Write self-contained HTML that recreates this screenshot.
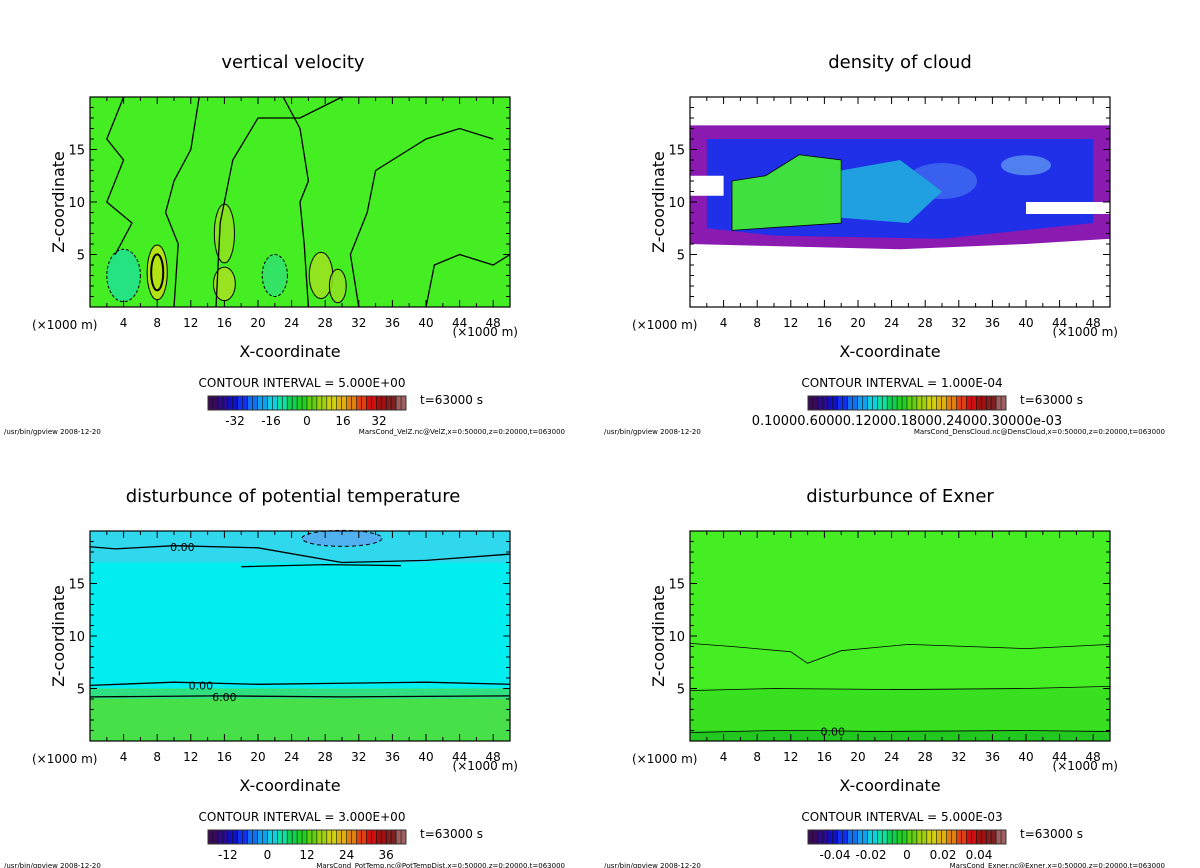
<!DOCTYPE html>
<html><head><meta charset="utf-8">
<style>
body{margin:0;background:#fff;width:1200px;height:868px;overflow:hidden}
svg{display:block}
text{font-family:"DejaVu Sans","Liberation Sans",sans-serif;fill:#000}
</style></head>
<body>
<svg id="s" width="1200" height="868" viewBox="0 0 1200 868"></svg>
<script>
const xTicks=[4,8,12,16,20,24,28,32,36,40,44,48];
const zTicks=[5,10,15];
const titles=["vertical velocity","density of cloud","disturbunce of potential temperature","disturbunce of Exner"];
const intervals=["5.000E+00","1.000E-04","3.000E+00","5.000E-03"];
const cbLabels=[["-32","-16","0","16","32"],["0.10000.60000.12000.18000.24000.30000e-03"],["-12","0","12","24","36"],["-0.04","-0.02","0","0.02","0.04"]];
const cbLabelVals=[[-32,-16,0,16,32],[0],[-12,0,12,24,36],[-0.04,-0.02,0,0.02,0.04]];
const cbRange=[[-44,44],[0,0],[-18,42],[-0.055,0.055]];
const files=["MarsCond_VelZ.nc@VelZ,x=0:50000,z=0:20000,t=063000","MarsCond_DensCloud.nc@DensCloud,x=0:50000,z=0:20000,t=063000","MarsCond_PotTemp.nc@PotTempDist,x=0:50000,z=0:20000,t=063000","MarsCond_Exner.nc@Exner,x=0:50000,z=0:20000,t=063000"];
const panelNames=["vertical-velocity","density-of-cloud","potential-temperature","exner"];
const S=document.getElementById('s');const NS='http://www.w3.org/2000/svg';
function el(t,a,p){const e=document.createElementNS(NS,t);for(const k in a)e.setAttribute(k,a[k]);(p||S).appendChild(e);return e;}
function tx(x,y,s,size,anchor,p){const e=el('text',{x:x,y:y,'font-size':size,'text-anchor':anchor||'middle'},p);e.textContent=s;return e;}
const PW=420,PH=210;
const origins=[[90,97],[690,97],[90,531],[690,531]];
const stripeCols=["#3a0a5a","#2a0a8a","#1010c0","#1030f0","#1070f0","#10a0f0","#10d0e0","#10e0a0","#10d050","#20d020","#60d010","#a0d010","#d0d010","#e0b010","#e08010","#e04010","#d01010","#a01010","#802020","#a06060"];
for(let i=0;i<4;i++){
  const [ox,oy]=origins[i];
  const g=el('g',{},S);
  
  const X=v=>ox+v/50*PW, Z=v=>oy+PH-v/20*PH;
  const t=tx(ox+PW/2+(i%2?0:-7),oy-29,titles[i],18,'middle',g);
  const pl=el('g',{},g);
  if(i==0){
    el('rect',{x:ox,y:oy,width:PW,height:PH,fill:'#44ee22'},pl);
    [[8,3.3,1.2,2.6,'#c8e010'],[16,7,1.2,2.8,'#90e020'],[16,2.2,1.3,1.6,'#a8e020'],[27.5,3,1.4,2.2,'#a0e020'],[29.5,2,1,1.6,'#90e020'],[4,3,2,2.5,'#20e090'],[22,3,1.5,2,'#30e070']].forEach(e=>{
      el('ellipse',{cx:X(e[0]),cy:Z(e[1]),rx:e[2]*8.4,ry:e[3]*10.5,fill:e[4],opacity:0.85},pl);
      el('ellipse',{cx:X(e[0]),cy:Z(e[1]),rx:e[2]*8.4,ry:e[3]*10.5,fill:'none',stroke:'#000','stroke-width':1,'stroke-dasharray':e[4].startsWith('#2')||e[4].startsWith('#3')?'3,2':''},pl);
    });
    el('ellipse',{cx:X(8),cy:Z(3.3),rx:6,ry:18,fill:'none',stroke:'#000','stroke-width':2},pl);
    [[[10,0],[10.5,6],[9,9],[10,12],[12,15],[13,20]],[[15,0],[15.5,8],[17,14],[20,18],[25,18],[30,20]],[[26,0],[25.5,6],[25,10],[26,12],[25,17],[23,20]],[[32,0],[31,5],[33,9],[34,13],[38,15],[40,16],[44,17],[48,16]],[[3,5],[5,8],[2,10],[4,14],[2,16],[4,20]],[[40,0],[41,4],[44,5],[48,4],[50,5]]].forEach(p=>{
      el('polyline',{points:p.map(q=>X(q[0])+','+Z(q[1])).join(' '),fill:'none',stroke:'#000','stroke-width':1.3},pl);
    });
  } else if(i==1){
    el('rect',{x:ox,y:oy,width:PW,height:PH,fill:'#fff'},pl);
    el('path',{d:`M${X(0)},${Z(17.3)} L${X(50)},${Z(17.3)} L${X(50)},${Z(6.5)} L${X(40)},${Z(6)} L${X(25)},${Z(5.5)} L${X(10)},${Z(5.8)} L${X(0)},${Z(6)} Z`,fill:'#8a1ab0'},pl);
    el('path',{d:`M${X(2)},${Z(16)} L${X(48)},${Z(16)} L${X(48)},${Z(8)} L${X(30)},${Z(6.5)} L${X(10)},${Z(6.8)} L${X(2)},${Z(7.5)} Z`,fill:'#2030e8'},pl);
    el('rect',{x:X(0),y:Z(12.5),width:X(4)-X(0),height:20,fill:'#fff'},pl);
    el('rect',{x:X(40),y:Z(10),width:X(50)-X(40),height:12,fill:'#fff'},pl);
    el('ellipse',{cx:X(30),cy:Z(12),rx:35,ry:18,fill:'#3a60f0'},pl);
    el('ellipse',{cx:X(40),cy:Z(13.5),rx:25,ry:10,fill:'#5080f0'},pl);
    el('path',{d:`M${X(5)},${Z(12)} L${X(9)},${Z(12.5)} L${X(13)},${Z(14.5)} L${X(18)},${Z(14)} L${X(18)},${Z(8)} L${X(5)},${Z(7.3)} Z`,fill:'#40e040',stroke:'#000','stroke-width':0.8},pl);
    el('path',{d:`M${X(18)},${Z(13)} L${X(25)},${Z(14)} L${X(30)},${Z(11)} L${X(26)},${Z(8)} L${X(18)},${Z(8.5)} Z`,fill:'#20a0e0'},pl);
  } else if(i==2){
    el('rect',{x:ox,y:oy,width:PW,height:PH,fill:'#00eef0'},pl);
    el('rect',{x:ox,y:Z(20),width:PW,height:Z(17)-Z(20),fill:'#30d8ee'},pl);
    el('ellipse',{cx:X(30),cy:Z(19.3),rx:40,ry:8,fill:'#50b0f0',stroke:'#000','stroke-dasharray':'4,3'},pl);
    el('rect',{x:ox,y:Z(5),width:PW,height:Z(0)-Z(5),fill:'#30e080'},pl);
    el('rect',{x:ox,y:Z(4),width:PW,height:Z(0)-Z(4),fill:'#48e048'},pl);
    [[[0,5.3],[10,5.6],[20,5.4],[30,5.5],[40,5.6],[50,5.4]],[[0,4.2],[15,4.3],[30,4.2],[50,4.3]],[[0,18.5],[3,18.3],[10,18.6],[20,18.4],[30,17],[40,17.2],[50,17.8]],[[18,16.6],[28,16.8],[37,16.7]]].forEach(p=>{
      el('polyline',{points:p.map(q=>X(q[0])+','+Z(q[1])).join(' '),fill:'none',stroke:'#000','stroke-width':1.3},pl);
    });
    tx(X(13.2),Z(5.3)+4,'0.00',11,'middle',pl);tx(X(16),Z(4.2)+4,'6.00',11,'middle',pl);tx(X(11),Z(18.5)+4,'0.00',11,'middle',pl);
  } else {
    el('rect',{x:ox,y:oy,width:PW,height:PH,fill:'#44ee22'},pl);
    el('rect',{x:ox,y:Z(5),width:PW,height:Z(0)-Z(5),fill:'#38e020'},pl);
    el('rect',{x:ox,y:Z(1),width:PW,height:Z(0)-Z(1),fill:'#22c820'},pl);
    [[[0,9.3],[5,9],[12,8.5],[14,7.4],[18,8.6],[26,9.2],[40,8.8],[50,9.2]],[[0,4.8],[10,5],[25,4.9],[40,5],[50,5.2]],[[0,0.8],[10,1],[15,1],[22,0.9],[40,1],[50,0.9]]].forEach(p=>{
      el('polyline',{points:p.map(q=>X(q[0])+','+Z(q[1])).join(' '),fill:'none',stroke:'#000','stroke-width':0.8},pl);
    });
    tx(X(17),Z(0.9)+4,'0.00',11,'middle',pl);
  }
  el('rect',{x:ox,y:oy,width:PW,height:PH,fill:'none',stroke:'#000','stroke-width':1.2},g);
  for(let v=0;v<=50;v++){const len=v%4==0?7:(v%2==0?4:0);if(!len)continue;
    el('line',{x1:X(v),x2:X(v),y1:oy+PH,y2:oy+PH-len,stroke:'#000'},g);el('line',{x1:X(v),x2:X(v),y1:oy,y2:oy+len,stroke:'#000'},g);}
  for(let v=1;v<20;v++){const len=v%5==0?7:4;
    el('line',{x1:ox,x2:ox+len,y1:Z(v),y2:Z(v),stroke:'#000'},g);el('line',{x1:ox+PW,x2:ox+PW-len,y1:Z(v),y2:Z(v),stroke:'#000'},g);}
  xTicks.forEach(v=>{const e=tx(X(v),oy+PH+20,String(v),12,'middle',g);});
  zTicks.forEach(v=>{const e=tx(ox-5,Z(v)+5,String(v),13,'end',g);});
  tx(ox-58,oy+PH+22,'(×1000 m)',12,'start',g);tx(ox+PW+8,oy+PH+29,'(×1000 m)',12,'end',g);
  const xl=tx(ox+PW/2-10,oy+PH+50,'X-coordinate',16,'middle',g);
  const zl=tx(0,0,'Z-coordinate',16,'middle',g);zl.setAttribute('transform',`translate(${ox-26},${oy+PH/2}) rotate(-90)`);
  tx(ox+212,oy+PH+80,'CONTOUR INTERVAL = '+intervals[i],12,'middle',g);
  const cx0=ox+118,cw=198,cy=oy+PH+89;
  const cb=el('g',{},g);
  const n=40;for(let k=0;k<n;k++){const c=stripeCols[Math.floor(k/n*stripeCols.length)];
    el('rect',{x:cx0+k*cw/n,y:cy,width:cw/n+0.3,height:14,fill:c},cb);
    el('line',{x1:cx0+k*cw/n,x2:cx0+k*cw/n,y1:cy,y2:cy+14,stroke:'#111','stroke-width':0.6},cb);}
  el('rect',{x:cx0,y:cy,width:cw,height:14,fill:'none',stroke:'#333'},cb);
  const r=cbRange[i];
  cbLabels[i].forEach((s,k)=>{const px=r[1]>r[0]?cx0+(cbLabelVals[i][k]-r[0])/(r[1]-r[0])*cw:cx0+cw/2;
    tx(px,cy+29,s,i==1?13:12,'middle',cb);});
  tx(ox+330,cy+8,'t=63000 s',12,'start',g).setAttribute('fill','#444');
  tx(ox-86,oy+PH+127,'/usr/bin/gpview  2008-12-20',7,'start',g);
  tx(ox+475,oy+PH+127,files[i],7,'end',g);
}
</script>
</body></html>
